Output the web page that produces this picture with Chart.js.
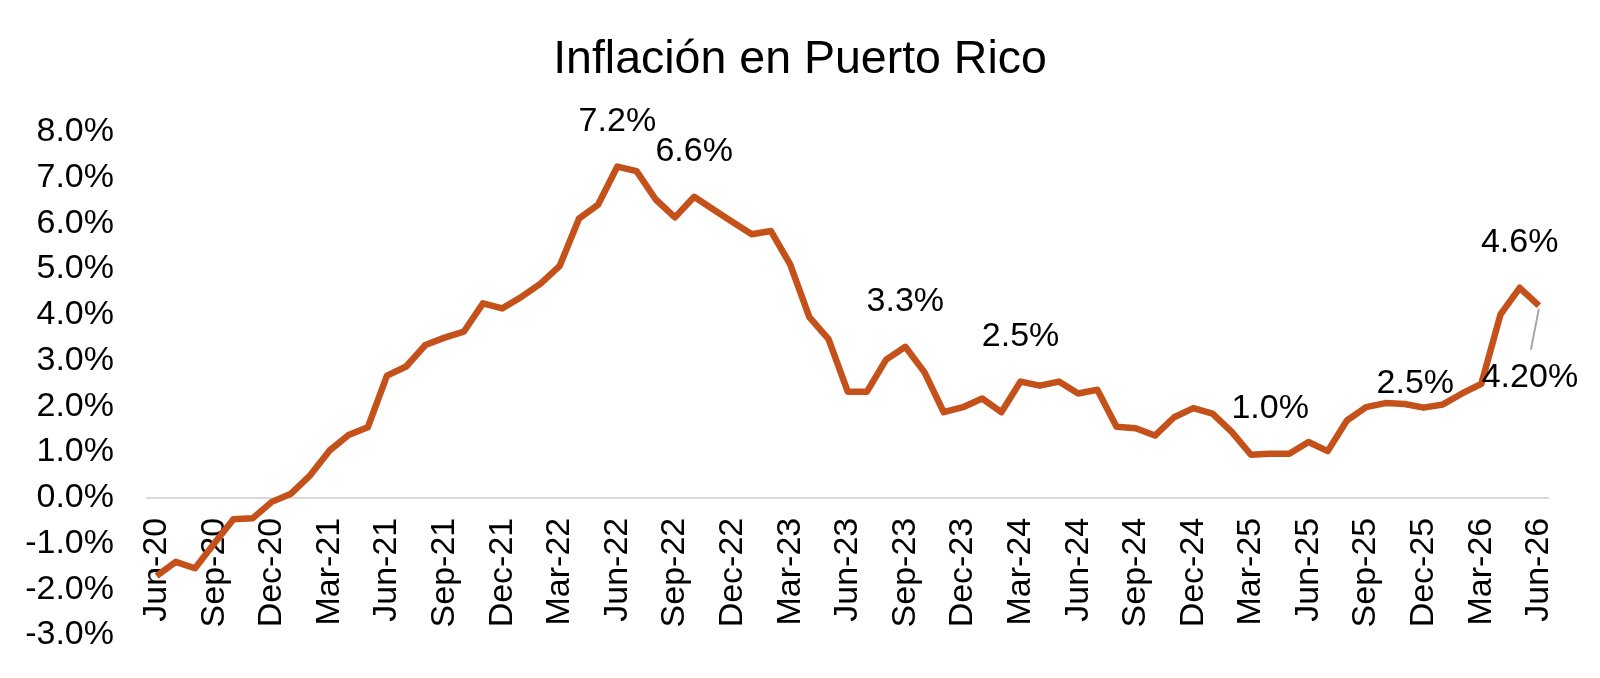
<!DOCTYPE html>
<html>
<head>
<meta charset="utf-8">
<title>Inflación en Puerto Rico</title>
<script src="https://cdn.jsdelivr.net/npm/chart.js@4.4.1/dist/chart.umd.min.js"></script>
<style>
    html, body { margin: 0; padding: 0; background: #fff; }
    canvas { display: block; }
</style>
</head>
<body>
<canvas id="myChart" width="1600" height="678"></canvas>
<script>
// monthly categories, Jun-20 .. Jun-26
var months = [
    'Jun-20', 'Jul-20', 'Aug-20', 'Sep-20', 'Oct-20', 'Nov-20', 'Dec-20',
    'Jan-21', 'Feb-21', 'Mar-21', 'Apr-21', 'May-21', 'Jun-21', 'Jul-21', 'Aug-21', 'Sep-21', 'Oct-21', 'Nov-21', 'Dec-21',
    'Jan-22', 'Feb-22', 'Mar-22', 'Apr-22', 'May-22', 'Jun-22', 'Jul-22', 'Aug-22', 'Sep-22', 'Oct-22', 'Nov-22', 'Dec-22',
    'Jan-23', 'Feb-23', 'Mar-23', 'Apr-23', 'May-23', 'Jun-23', 'Jul-23', 'Aug-23', 'Sep-23', 'Oct-23', 'Nov-23', 'Dec-23',
    'Jan-24', 'Feb-24', 'Mar-24', 'Apr-24', 'May-24', 'Jun-24', 'Jul-24', 'Aug-24', 'Sep-24', 'Oct-24', 'Nov-24', 'Dec-24',
    'Jan-25', 'Feb-25', 'Mar-25', 'Apr-25', 'May-25', 'Jun-25', 'Jul-25', 'Aug-25', 'Sep-25', 'Oct-25', 'Nov-25', 'Dec-25',
    'Jan-26', 'Feb-26', 'Mar-26', 'Apr-26', 'May-26', 'Jun-26'
]

// inflation, percent
var inflation = [
    -1.71, -1.40, -1.54, -1.00, -0.47, -0.45, -0.09,
    0.09, 0.49, 1.03, 1.37, 1.54, 2.67, 2.87, 3.34, 3.50, 3.63, 4.25, 4.14,
    4.39, 4.68, 5.07, 6.10, 6.41, 7.24, 7.14, 6.52, 6.13, 6.58, 6.30, 6.03,
    5.76, 5.83, 5.10, 3.95, 3.47, 2.32, 2.32, 3.02, 3.30, 2.74, 1.87, 1.98,
    2.17, 1.87, 2.54, 2.45, 2.54, 2.28, 2.36, 1.55, 1.52, 1.36, 1.76, 1.96,
    1.84, 1.44, 0.94, 0.96, 0.96, 1.22, 1.02, 1.69, 1.98, 2.07, 2.05, 1.97,
    2.04, 2.28, 2.49, 4.01, 4.59, 4.20
]

var yTicksMin = -3
var yTicksMax = 8

// which points carry a value label, and how many decimals
var labelIndex = [24, 28, 39, 45, 58, 69, 71, 72]
var labelDecimals = [1, 1, 1, 1, 1, 1, 1, 2]

var FONT = "Arial, 'Liberation Sans', sans-serif"

// label placement relative to its point (Excel-ish "above", a couple moved by hand)
var labelOffsets = {
    69: { dx: -66, dy: 0 },
    72: { dx: -9, dy: 72, leader: { dx: -8, dy: 44 } }
}

var pointLabels = {
    id: 'pointLabels',
    afterDatasetsDraw: function(chart) {
        var ctx = chart.ctx
        var meta = chart.getDatasetMeta(0)
        ctx.save()
        ctx.font = '34px ' + FONT
        ctx.fillStyle = '#000'
        ctx.textAlign = 'center'
        ctx.textBaseline = 'middle'
        labelIndex.forEach(function(i, k) {
            var pt = meta.data[i]
            var off = labelOffsets[i] || { dx: 0, dy: -45 }
            if (off.leader) {
                ctx.strokeStyle = '#A6A6A6'
                ctx.lineWidth = 2
                ctx.beginPath()
                ctx.moveTo(pt.x, pt.y + 3)
                ctx.lineTo(pt.x + off.leader.dx, pt.y + off.leader.dy)
                ctx.stroke()
            }
            var txt = inflation[i].toFixed(labelDecimals[k]) + '%'
            ctx.fillText(txt, pt.x + off.dx, pt.y + off.dy)
        })
        ctx.restore()
    }
}

var ctx = document.getElementById('myChart').getContext('2d')
var myChart = new Chart(ctx, {
    type: 'line',
    data: {
        labels: months,
        datasets: [{
            label: 'Inflación',
            data: inflation,
            borderColor: '#C4511A',
            borderWidth: 6.5,
            borderJoinStyle: 'round',
            pointRadius: 0,
            tension: 0,
            fill: false
        }]
    },
    options: {
        responsive: false,
        animation: false,
        devicePixelRatio: 1,
        layout: { padding: { left: 0, right: 0, top: 0, bottom: 43 } },
        plugins: {
            legend: { display: false },
            tooltip: { enabled: false },
            title: {
                display: true,
                text: 'Inflación en Puerto Rico',
                color: '#000',
                font: { family: FONT, size: 46.5, weight: 'normal' },
                padding: { top: 32, bottom: 44 }
            }
        },
        scales: {
            x: {
                position: { y: 0 },
                offset: true,
                grid: { display: false, drawTicks: false },
                border: { display: true, color: '#D9D9D9', width: 2 },
                ticks: {
                    autoSkip: false,
                    minRotation: 90,
                    maxRotation: 90,
                    padding: 20,
                    color: '#000',
                    font: { family: FONT, size: 34 },
                    callback: function(value, index) {
                        return index % 3 === 0 ? this.getLabelForValue(value) : ''
                    }
                },
                afterFit: function(scale) { scale.height = 0 }
            },
            y: {
                min: yTicksMin,
                max: yTicksMax,
                // invisible tick marks give the gap between labels and plot
                grid: { display: true, drawOnChartArea: false, drawTicks: true, tickLength: 33, color: 'rgba(0,0,0,0)' },
                border: { display: false },
                ticks: {
                    stepSize: 1,
                    padding: 0,
                    color: '#000',
                    font: { family: FONT, size: 34 },
                    callback: function(v) { return v.toFixed(1) + '%' }
                },
                afterFit: function(scale) { scale.width = 147 }
            },
            // empty axis on the right, only keeps the plot away from the edge
            yPad: {
                position: 'right',
                display: true,
                grid: { display: false, drawTicks: false },
                border: { display: false },
                ticks: { display: false },
                afterFit: function(scale) { scale.width = 43 }
            }
        }
    },
    plugins: [pointLabels]
})
</script>
</body>
</html>
